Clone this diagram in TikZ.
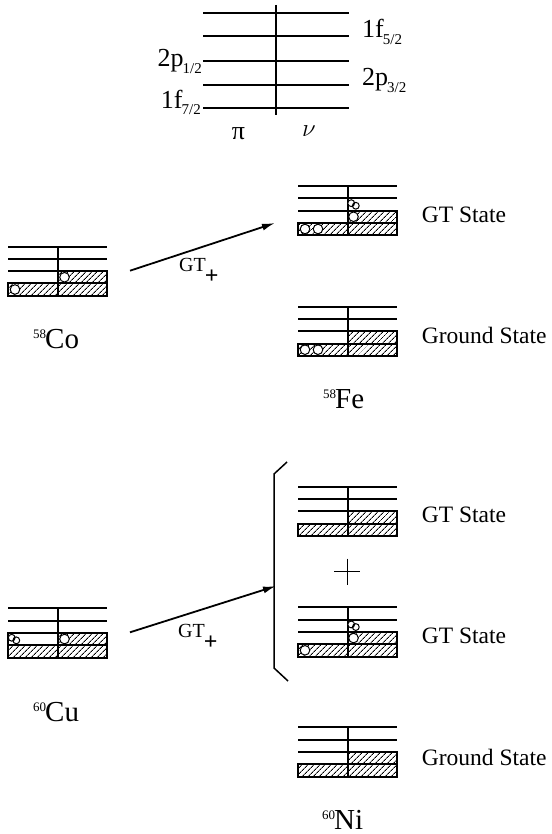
\documentclass[tikz,border=0pt]{standalone}
\usepackage{fontspec}
\setmainfont{Liberation Serif}
\usepackage{tikz}
\usetikzlibrary{arrows.meta,patterns.meta,positioning,calc}

% small level scheme: name, left x, top y
\newcommand{\shellscheme}[3]{%
  \coordinate (#1) at (#2,#3);
  \draw[level] (#1) -- ++(99,0);
  \draw[level] ($(#1)+(0,12.3)$) -- ++(99,0);
  \draw[level] ($(#1)+(0,24.6)$) -- ++(99,0);
  \draw[level] ($(#1)+(50,0)$) -- ++(0,49.2);
  \filldraw[filled] ($(#1)+(50,24.6)$) rectangle ++(49,12.3);
  \filldraw[filled] ($(#1)+(0,36.9)$) rectangle ++(99,12.3);
}
\newcommand{\hole}[1]{\filldraw[hole] (#1) circle (4.8);}
\newcommand{\pairmark}[1]{\draw[pairs] ($(#1)+(-2.3,-1.3)$) circle (3.4) ($(#1)+(2.3,1.3)$) circle (3.4);}
\newcommand{\sub}[1]{\kern-1pt\raisebox{-6.5pt}{\fontsize{15}{15}\selectfont #1}}
\newcommand{\nuc}[2]{{\fontsize{13}{13}\selectfont\raisebox{10pt}{#1}}\kern-1pt#2}
\newcommand{\gtplus}{GT\kern-1pt\raisebox{-12pt}{\fontsize{24}{24}\selectfont\textbf{+}}}

\begin{document}
\begin{tikzpicture}[
        x=1pt, y=-1pt,
        level/.style={line width=2pt},
        filled/.style={draw, line width=2pt, pattern={Lines[angle=45,distance=4pt,line width=0.9pt]}},
        hole/.style={fill=white, draw, line width=1pt},
        pairs/.style={fill=white, draw, line width=1pt},
        orbital/.style={inner sep=0pt, font=\fontsize{26}{30}\selectfont},
        statetext/.style={inner sep=0pt, anchor=west, font=\fontsize{23.5}{28}\selectfont},
        nuclide/.style={inner sep=0pt, anchor=base west, font=\fontsize{29}{32}\selectfont},
        gtlabel/.style={inner sep=0pt, anchor=base west, font=\fontsize{20}{24}\selectfont},
        arrow/.style={-{Latex[length=13pt,width=7pt]}, line width=1.8pt},
        bracket/.style={line width=1.5pt}
    ]
    \useasboundingbox (0,0) rectangle (551,834);

    % single-particle levels
    \foreach \y in {12.7,36.2,60.7,85,108.3}
        \draw[level] (203,\y) -- (349,\y);
    \draw[level] (276,5) -- (276,115);
    \node[orbital, anchor=base east] (p12) at (202,67) {2p\sub{1/2}};
    \node[orbital, anchor=base east] (f72) at (201,108.5) {1f\sub{7/2}};
    \node[orbital, anchor=base west] (f52) at (362,38) {1f\sub{5/2}};
    \node[orbital, anchor=base west] (p32) at (362,86) {2p\sub{3/2}};
    \node[orbital] (pi) at (238.5,134) {π};
    \node[orbital] (nu) at (309,131) {$\nu$};

    % 58Co -> 58Fe
    \shellscheme{co}{8}{246.5}
    \hole{$(co)+(7,43)$}
    \hole{$(co)+(56.5,30.75)$}
    \node[nuclide] (co-name) at (33,348) {\nuc{58}{Co}};

    \shellscheme{fegt}{298}{186}
    \hole{$(fegt)+(7,43)$}
    \hole{$(fegt)+(20,43)$}
    \hole{$(fegt)+(55.5,30.75)$}
    \pairmark{$(fegt)+(55.5,18.45)$}
    \node[statetext] (fegt-lab) at (421.7,215) {GT State};

    \shellscheme{fegs}{298}{306.7}
    \hole{$(fegs)+(7,43)$}
    \hole{$(fegs)+(20,43)$}
    \node[statetext] (fegs-lab) at (421.7,335) {Ground State};
    \node[nuclide] (fe-name) at (323,408) {\nuc{58}{Fe}};

    \coordinate (co-out) at (130,270.7);
    \coordinate (fe-in) at (275,223);
    \draw[arrow] (co-out) -- (fe-in);
    \node[gtlabel] (gt-co) at (179,271) {\gtplus};

    % 60Cu -> 60Ni
    \shellscheme{cu}{8}{608.3}
    \draw[level] ($(cu)+(0,24.6)$) rectangle ++(50,12.3);
    \pairmark{$(cu)+(6,30.75)$}
    \hole{$(cu)+(56.5,30.75)$}
    \node[nuclide] (cu-name) at (33,721) {\nuc{60}{Cu}};

    \draw[bracket] (287,462) -- (274,474) -- (274,668) -- (288,681);

    \shellscheme{nigt}{298}{486.7}
    \node[statetext] (nigt-lab) at (421.7,515) {GT State};
    \draw[line width=1.5pt] (334.3,571.7) -- (360.3,571.7) (347.3,558.7) -- (347.3,584.7);

    \shellscheme{nigtb}{298}{607.3}
    \hole{$(nigtb)+(7,43)$}
    \hole{$(nigtb)+(55.5,30.75)$}
    \pairmark{$(nigtb)+(55.5,18.45)$}
    \node[statetext] (nigtb-lab) at (421.7,636) {GT State};

    \shellscheme{nigs}{298}{727.3}
    \node[statetext] (nigs-lab) at (421.7,757.3) {Ground State};
    \node[nuclide] (ni-name) at (322,829) {\nuc{60}{Ni}};

    \coordinate (cu-out) at (130,632.3);
    \coordinate (ni-in) at (276,586);
    \draw[arrow] (cu-out) -- (ni-in);
    \node[gtlabel] (gt-cu) at (178,637) {\gtplus};
\end{tikzpicture}
\end{document}
